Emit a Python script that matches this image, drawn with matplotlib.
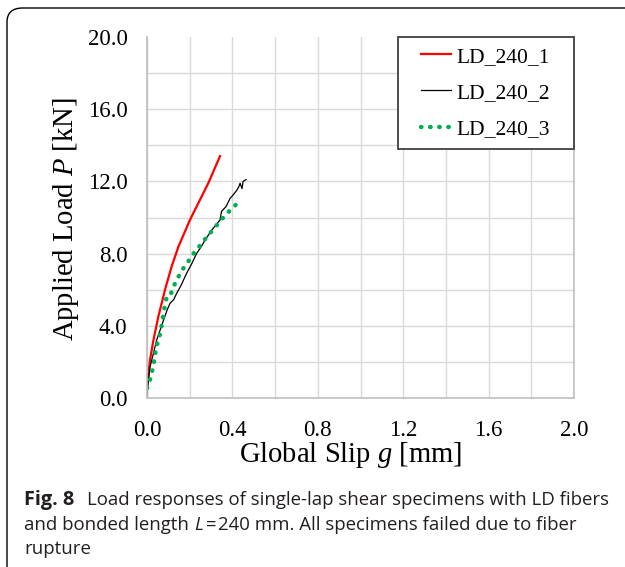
import matplotlib
matplotlib.use("Agg")
import matplotlib.pyplot as plt
from matplotlib.patches import FancyBboxPatch, Rectangle
from matplotlib.legend_handler import HandlerLine2D

# values
slip_1 = [0.0, 0.0, 0.014, 0.03, 0.053, 0.084, 0.115, 0.147, 0.201, 0.287, 0.342]
load_1 = [0.0, 0.6, 2.1, 3.2, 4.5, 5.98, 7.27, 8.38, 9.86, 11.9, 13.4]

slip_2 = [0.0, 0.014, 0.045, 0.077, 0.095, 0.108, 0.125, 0.139, 0.16, 0.185, 0.21, 0.232,
          0.255, 0.272, 0.303, 0.342, 0.349, 0.37, 0.389, 0.40, 0.42, 0.43, 0.436, 0.445, 0.45, 0.464]
load_2 = [0.3, 1.7, 3.2, 4.3, 4.9, 5.25, 5.45, 5.8, 6.25, 6.9, 7.45, 8.0,
          8.4, 8.75, 9.3, 9.86, 10.34, 10.6, 11.06, 11.2, 11.5, 11.7, 11.9, 11.6, 12.0, 12.1]

slip_3 = [0.0, 0.014, 0.022, 0.03, 0.037, 0.042, 0.053, 0.064, 0.077, 0.092, 0.108, 0.12,
          0.134, 0.151, 0.17, 0.19, 0.209, 0.232, 0.256, 0.279, 0.318, 0.342, 0.365, 0.389, 0.42]
load_3 = [0.54, 1.0, 1.37, 1.83, 2.3, 2.75, 3.2, 3.67, 4.7, 5.6, 5.67, 6.0,
          6.44, 6.8, 7.18, 7.5, 7.87, 8.2, 8.57, 8.9, 9.45, 9.8, 10.1, 10.4, 10.75]

labels = ["LD_240_1", "LD_240_2", "LD_240_3"]
x_ticks = [0.0, 0.4, 0.8, 1.2, 1.6, 2.0]
y_ticks = [0.0, 4.0, 8.0, 12.0, 16.0, 20.0]

plt.rcParams["mathtext.fontset"] = "custom"
plt.rcParams["mathtext.rm"] = "Liberation Serif"
plt.rcParams["mathtext.it"] = "Liberation Serif:italic"

W, H = 625, 567
fig = plt.figure(figsize=(W / 100, H / 100), dpi=100)
ax = fig.add_axes([147 / W, 1 - 398 / H, (574 - 147) / W, (398 - 37) / H])

ax.plot(slip_1, load_1, color="#FF0000", lw=1.6, label=labels[0])
ax.plot(slip_2, load_2, color="black", lw=0.9, label=labels[1])
ax.plot(slip_3, load_3, color="#00B050", lw=3.2, linestyle=(0, (0.1, 1.95)),
        dash_capstyle="round", label=labels[2])

ax.set_xlim(0, 2.0)
ax.set_ylim(0, 20.0)
ax.set_xticks(x_ticks)
ax.set_yticks(y_ticks)
ax.set_xticklabels(["%.1f" % v for v in x_ticks])
ax.set_yticklabels(["%.1f" % v for v in y_ticks])
ax.set_xticks([i * 0.2 for i in range(11)], minor=True)
ax.set_yticks([i * 2.0 for i in range(10)], minor=True)
ax.grid(which="both", color="#D9D9D9", lw=1.0)
ax.yaxis.get_major_ticks()[-1].gridline.set_visible(False)
ax.set_axisbelow(True)
ax.tick_params(which="both", length=0)
ax.tick_params(axis="x", pad=15.5)
ax.tick_params(axis="y", pad=14)
for lab in ax.get_xticklabels() + ax.get_yticklabels():
    lab.set_fontfamily("Liberation Serif")
    lab.set_fontsize(16.5)
ax.spines["top"].set_visible(False)
for s in ["left", "bottom", "right"]:
    ax.spines[s].set_color("#BFBFBF")
    ax.spines[s].set_linewidth(1.2)

ax.set_xlabel("Global Slip $g$ [mm]", fontfamily="Liberation Serif", fontsize=20.6)
ax.set_ylabel("Applied Load $P$ [kN]", fontfamily="Liberation Serif", fontsize=20.6)
ax.xaxis.set_label_coords((351 - 147) / 427, -(455 - 398) / 361)
ax.yaxis.set_label_coords(-(147 - 66) / 427, (398 - 219) / 361)
ax.xaxis.label.set_va("center")
ax.yaxis.label.set_va("center")

# legend without its own frame; the box is drawn separately to get Excel's padding
leg_x0 = (398 - 147) / 427
leg_y0 = (398 - 149) / 361
leg = ax.legend(loc="upper left", bbox_to_anchor=(leg_x0, 1.0), frameon=False,
                prop={"family": "Liberation Serif", "size": 15.5}, borderaxespad=0,
                handlelength=2.0, handletextpad=0.25, labelspacing=0.75, borderpad=0.45,
                handler_map={plt.Line2D: HandlerLine2D(xpad=0.6)})
ax.add_patch(Rectangle((leg_x0, leg_y0), 1.0 - leg_x0 - 0.001, 1.0 - leg_y0, transform=ax.transAxes,
                       facecolor="white", edgecolor="#404040", lw=1.3, zorder=4, clip_on=False))
leg.set_zorder(5)

# outer rounded frame of the figure panel
box = FancyBboxPatch((7 / W, -20 / H), 700 / W, (H - 8 + 20) / H,
                     boxstyle="round,pad=0,rounding_size=0.025", transform=fig.transFigure,
                     fill=False, edgecolor="black", lw=1.0, clip_on=False)
fig.patches.append(box)

# caption, drawn piece by piece
renderer = fig.canvas.get_renderer()
cap_font = "Open Sans"
cap_size = 13.45


def put(x, y, s, size=cap_size, **kw):
    t = fig.text(x / W, 1 - y / H, s, fontfamily=cap_font, fontsize=size,
                 va="baseline", ha="left", color="#231F20", **kw)
    return x + t.get_window_extent(renderer).width


put(24, 505, "Fig. 8", size=14.3, fontweight="bold")
put(87, 505, "Load responses of single-lap shear specimens with LD fibers")
x = put(24, 530, "and bonded length ")
x = put(x, 530, "L", fontstyle="italic")
x = put(x + 3, 530, "=")
put(x + 2, 530, "240 mm. All specimens failed due to fiber")
put(24, 554, "rupture")

fig.savefig("out.png", dpi=100)
